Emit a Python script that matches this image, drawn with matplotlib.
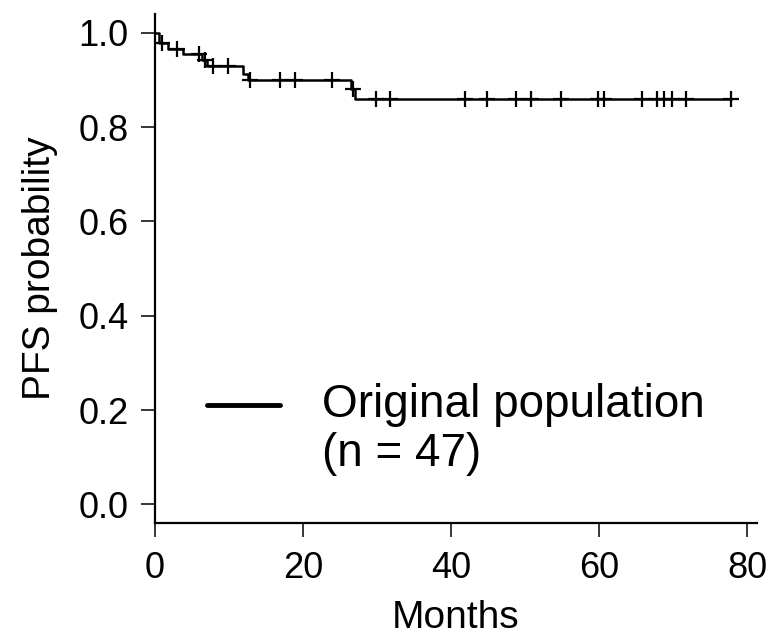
import numpy as np
import matplotlib
matplotlib.use("Agg")
import matplotlib.pyplot as plt

# Kaplan-Meier steps (months, survival after the step)
step_times = [0.5, 1.8, 3.8, 6.3, 7.0, 11.9, 12.5, 26.5, 27.0]
step_levels = [0.979, 0.966, 0.955, 0.943, 0.929, 0.912, 0.899, 0.880, 0.860]
# censored patients (months)
censor_times = [0.9, 3.0, 5.9, 6.8, 7.9, 9.9, 12.8, 16.9, 18.9, 23.9, 26.8,
                29.9, 31.8, 41.9, 44.8, 48.8, 50.8, 54.8, 59.8, 60.7, 65.8,
                67.8, 68.7, 69.8, 71.7, 77.8]
end_time = 77.8

x_ticks = [0, 20, 40, 60, 80]
y_ticks = [0.0, 0.2, 0.4, 0.6, 0.8, 1.0]

plt.rcParams['font.family'] = ['Liberation Sans', 'DejaVu Sans']

# step curve
t = np.array([0.0] + step_times + [end_time])
s = np.array([1.0] + step_levels + [step_levels[-1]])

def level_at(x):
    idx = np.searchsorted(step_times, x, side='right')
    return 1.0 if idx == 0 else step_levels[idx - 1]

fig = plt.figure(figsize=(7.7, 6.37), dpi=100)
ax = fig.add_axes([155 / 770, 1 - 523.3 / 637, 602 / 770, 509.3 / 637])

ax.step(t, s, where='post', color='black', lw=1.8)
ax.plot(censor_times, [level_at(c) for c in censor_times], ls='none',
        marker='+', ms=12, mew=1.6, color='black')

ax.set_xlim(0, 81.3)
ax.set_ylim(-0.04, 1.04)
ax.set_xticks(x_ticks)
ax.set_yticks(y_ticks)
ax.set_yticklabels([f"{v:.1f}" for v in y_ticks])
ax.tick_params(direction='out', length=10, width=1.1, labelsize=26)
ax.tick_params(axis='x', pad=10)
ax.tick_params(axis='y', pad=9)

for side in ['top', 'right']:
    ax.spines[side].set_visible(False)
for side in ['left', 'bottom']:
    ax.spines[side].set_linewidth(1.6)

ax.set_xlabel('Months', fontsize=28, labelpad=10)
ax.set_ylabel('PFS probability', fontsize=28, labelpad=15)

# legend drawn by hand so the line sits beside the first text line
ax.plot([0.086, 0.208], [0.232, 0.232], transform=ax.transAxes,
        color='black', lw=3.5, solid_capstyle='round')
ax.text(0.277, 0.208, 'Original population', transform=ax.transAxes,
        fontsize=33, va='baseline', ha='left')
ax.text(0.277, 0.112, '(n = 47)', transform=ax.transAxes,
        fontsize=33, va='baseline', ha='left')

fig.savefig('out.png', dpi=100)
